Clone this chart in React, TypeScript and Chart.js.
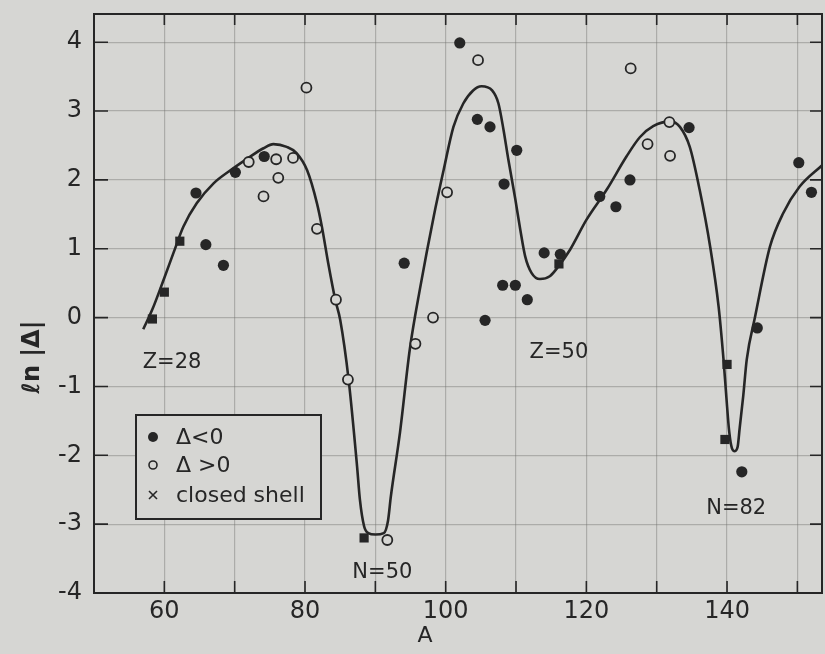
import React, { useEffect, useRef } from 'react';
import { Chart, registerables, ScatterController } from 'chart.js';

class FlatScatter extends (ScatterController as any) {
  static id = 'flatScatter';
  static defaults = (ScatterController as any).defaults;
  static overrides = (ScatterController as any).overrides;
  getMaxOverflow() { return 0; }
}
Chart.register(...registerables, FlatScatter as any);

// ---- data ----
const curveA = [57.0, 58.3, 59.9, 61.3, 62.7, 64.6, 67.0, 69.4, 71.8, 74.1, 75.5, 77.4, 78.8, 80.3, 81.7, 82.4, 83.3, 84.3, 85.0, 86.2, 87.4, 87.8, 88.4, 89.0, 90.0, 91.2, 91.8, 92.2, 93.5, 94.9, 96.4, 98.3, 99.7, 101.1, 102.5, 103.9, 105.1, 106.6, 107.5, 108.2, 108.9, 109.9, 110.6, 111.3, 112.2, 113.4, 114.8, 116.0, 117.7, 120.0, 122.9, 125.7, 127.6, 129.5, 131.9, 133.3, 134.7, 136.1, 137.6, 138.8, 139.5, 139.9, 140.3, 140.7, 141.1, 141.5, 141.8, 142.3, 142.8, 144.0, 146.1, 148.0, 150.3, 153.6];
const curveLn = [-0.17, 0.12, 0.55, 0.94, 1.32, 1.66, 1.95, 2.14, 2.31, 2.46, 2.52, 2.48, 2.39, 2.14, 1.66, 1.32, 0.79, 0.26, -0.03, -0.9, -2.16, -2.64, -3.03, -3.13, -3.15, -3.13, -2.95, -2.6, -1.67, -0.46, 0.45, 1.47, 2.14, 2.77, 3.11, 3.3, 3.36, 3.3, 3.11, 2.74, 2.3, 1.72, 1.28, 0.89, 0.65, 0.56, 0.6, 0.74, 0.99, 1.42, 1.86, 2.34, 2.62, 2.78, 2.85, 2.77, 2.48, 1.86, 1.03, 0.16, -0.61, -1.15, -1.65, -1.9, -1.94, -1.88, -1.6, -1.14, -0.61, 0.02, 1.03, 1.52, 1.9, 2.22];

const negA = [64.5, 65.9, 68.4, 70.1, 74.2, 94.1, 102.0, 104.5, 106.3, 108.3, 110.1, 105.6, 108.1, 109.9, 111.6, 114.0, 116.3, 121.9, 124.2, 126.2, 134.6, 142.1, 144.3, 150.2, 152.0];
const negLn = [1.81, 1.06, 0.76, 2.11, 2.34, 0.79, 3.99, 2.88, 2.77, 1.94, 2.43, -0.04, 0.47, 0.47, 0.26, 0.94, 0.92, 1.76, 1.61, 2.0, 2.76, -2.24, -0.15, 2.25, 1.82];

const posA = [72.0, 75.9, 78.3, 76.2, 74.1, 80.2, 81.7, 84.4, 86.1, 91.7, 95.7, 98.2, 100.2, 104.6, 126.3, 128.7, 131.8, 131.9];
const posLn = [2.26, 2.3, 2.32, 2.03, 1.76, 3.34, 1.29, 0.26, -0.9, -3.23, -0.38, 0.0, 1.82, 3.74, 3.62, 2.52, 2.84, 2.35];

const shellA = [58.3, 60.0, 62.2, 88.4, 116.1, 139.7, 140.0];
const shellLn = [-0.02, 0.37, 1.11, -3.2, 0.78, -1.77, -0.68];

const xTickValues = [50, 60, 70, 80, 90, 100, 110, 120, 130, 140, 150];
const xLabelStep = 20;
const yTickValues = [-4, -3, -2, -1, 0, 1, 2, 3, 4];

const noteText = ['Z=28', 'N=50', 'Z=50', 'N=82'];
const noteA = [61.1, 91.0, 116.1, 141.3];
const noteLn = [-0.65, -3.7, -0.51, -2.78];

const legendLabels = ['Δ<0', 'Δ >0', 'closed shell'];
const yTitle = 'ℓn |Δ|';
const xTitle = 'A';

const PAPER = '#d6d6d3';
const INK = '#262626';
const FONT = '"DejaVu Sans", sans-serif';

const toPts = (a: number[], b: number[]) => a.map((v, i) => ({ x: v, y: b[i] }));

const decor = {
  id: 'decor',
  beforeDraw(chart: any) {
    const { ctx, width, height } = chart;
    ctx.save();
    ctx.fillStyle = PAPER;
    ctx.fillRect(0, 0, width, height);
    ctx.restore();
  },
  afterDraw(chart: any) {
    const { ctx, chartArea: a, scales } = chart;
    const x = scales.x;
    const y = scales.y;
    ctx.save();
    ctx.strokeStyle = INK;
    ctx.lineWidth = 2;
    ctx.strokeRect(a.left, a.top, a.right - a.left, a.bottom - a.top);
    ctx.lineWidth = 1.6;
    ctx.beginPath();
    xTickValues.forEach((v) => {
      const px = x.getPixelForValue(v);
      if (px <= a.left + 1 || px >= a.right - 1) return;
      ctx.moveTo(px, a.top); ctx.lineTo(px, a.top + 11);
      ctx.moveTo(px, a.bottom); ctx.lineTo(px, a.bottom - 12);
    });
    yTickValues.forEach((v) => {
      const py = y.getPixelForValue(v);
      ctx.moveTo(a.left, py); ctx.lineTo(a.left + 14, py);
      ctx.moveTo(a.right, py); ctx.lineTo(a.right - 12, py);
    });
    ctx.stroke();

    // annotations
    ctx.fillStyle = INK;
    ctx.font = '21px ' + FONT;
    ctx.textAlign = 'center';
    ctx.textBaseline = 'middle';
    noteText.forEach((t, i) => {
      ctx.fillText(t, x.getPixelForValue(noteA[i]), y.getPixelForValue(noteLn[i]));
    });

    // legend box
    const bx = a.left + 42, by = 415, bw = 185, bh = 104;
    ctx.fillStyle = PAPER;
    ctx.fillRect(bx, by, bw, bh);
    ctx.lineWidth = 2;
    ctx.strokeStyle = INK;
    ctx.strokeRect(bx, by, bw, bh);
    const sx = bx + 17;
    const rows = [by + 22, by + 50, by + 80];
    ctx.fillStyle = INK;
    ctx.beginPath(); ctx.arc(sx, rows[0], 5, 0, Math.PI * 2); ctx.fill();
    ctx.lineWidth = 1.6;
    ctx.beginPath(); ctx.arc(sx, rows[1], 4, 0, Math.PI * 2); ctx.stroke();
    ctx.beginPath();
    ctx.moveTo(sx - 4, rows[2] - 4); ctx.lineTo(sx + 4, rows[2] + 4);
    ctx.moveTo(sx + 4, rows[2] - 4); ctx.lineTo(sx - 4, rows[2] + 4);
    ctx.stroke();
    ctx.font = '22px ' + FONT;
    ctx.textAlign = 'left';
    legendLabels.forEach((t, i) => ctx.fillText(t, bx + 40, rows[i] + 1));

    // axis titles
    ctx.font = '22px ' + FONT;
    ctx.textAlign = 'center';
    ctx.fillText(xTitle, a.left + 331, 636);
    ctx.translate(33, 357);
    ctx.rotate(-Math.PI / 2);
    ctx.font = 'bold 24px ' + FONT;
    ctx.fillText(yTitle, 0, 0);
    ctx.restore();
  },
};

export default function App() {
  const ref = useRef<HTMLCanvasElement | null>(null);
  useEffect(() => {
    if (!ref.current) return;
    const gridColor = 'rgba(110,110,108,0.4)';
    const chart = new Chart(ref.current, {
      type: 'flatScatter',
      data: {
        datasets: [
          {
            label: 'Δ<0',
            data: toPts(negA, negLn),
            pointStyle: 'circle',
            pointRadius: 5.6,
            backgroundColor: INK,
            borderColor: INK,
            borderWidth: 0,
          },
          {
            label: 'Δ>0',
            data: toPts(posA, posLn),
            pointStyle: 'circle',
            pointRadius: 5,
            backgroundColor: PAPER,
            borderColor: INK,
            borderWidth: 1.8,
          },
          {
            label: 'closed shell',
            data: toPts(shellA, shellLn),
            pointStyle: 'rect',
            pointRadius: 6.5,
            backgroundColor: INK,
            borderColor: INK,
            borderWidth: 0,
          },
          {
            label: 'fit',
            data: toPts(curveA, curveLn),
            showLine: true,
            cubicInterpolationMode: 'monotone',
            pointRadius: 0,
            borderColor: INK,
            borderWidth: 2.6,
            fill: false,
          },
        ],
      } as any,
      options: {
        responsive: false,
        animation: false,
        events: [],
        layout: { padding: { left: 0, right: 3, top: 14, bottom: 0 } },
        plugins: { legend: { display: false }, tooltip: { enabled: false } },
        scales: {
          x: {
            type: 'linear',
            position: 'bottom',
            min: 50,
            max: 153.5,
            afterBuildTicks: (s: any) => { s.ticks = xTickValues.map((v) => ({ value: v })); },
            afterFit: (s: any) => { s.height = 61; s.paddingLeft = 0; s.paddingRight = 0; },
            grid: { color: gridColor, lineWidth: 1.2, drawTicks: false },
            border: { display: false },
            ticks: {
              autoSkip: false,
              maxRotation: 0,
              padding: 4,
              color: INK,
              font: { family: FONT, size: 24 },
              callback: (v: any) => (Number(v) % xLabelStep === 0 ? String(v) : ''),
            },
          },
          y: {
            type: 'linear',
            position: 'left',
            min: -4,
            max: 4.41,
            afterBuildTicks: (s: any) => { s.ticks = yTickValues.map((v) => ({ value: v })); },
            afterFit: (s: any) => { s.width = 94; s.paddingTop = 0; s.paddingBottom = 0; },
            grid: { color: gridColor, lineWidth: 1.2, drawTicks: false },
            border: { display: false },
            ticks: {
              padding: 12,
              color: INK,
              font: { family: FONT, size: 24 },
              callback: (v: any) => String(v),
            },
          },
        },
      } as any,
      plugins: [decor],
    });
    return () => chart.destroy();
  }, []);
  return (
    <div style={{ position: 'fixed', left: 0, top: 0, width: 825, height: 654, background: PAPER }}>
      <canvas ref={ref} width={825} height={654} style={{ display: 'block' }} />
    </div>
  );
}
